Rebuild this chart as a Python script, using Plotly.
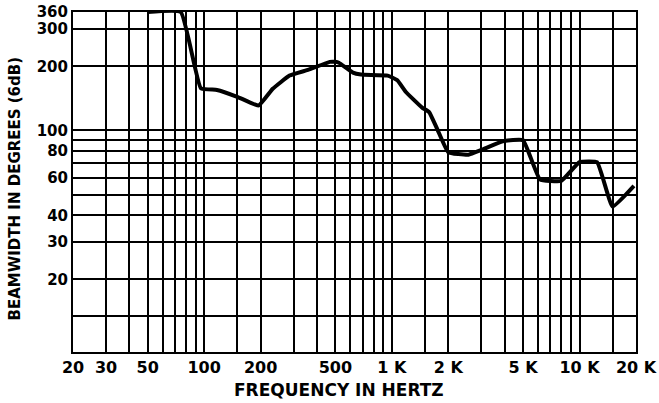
import plotly.graph_objects as go
import math

# Data
freq_hz = [50, 75, 96, 117, 150, 195, 232, 285, 360, 467, 500, 522, 620, 685, 950,
           1070, 1185, 1450, 1580, 1750, 2000, 2560, 3000, 3900, 5000, 6150, 8000,
           10000, 12400, 15000, 19500]
beamwidth_deg = [360, 360, 158, 155, 144, 131, 157, 181, 193, 210, 210, 208, 187, 183, 181,
                 172, 152, 128, 122, 101, 79, 77, 81, 89, 90, 59, 58,
                 71, 71, 44, 55]

x_grid = [20, 30, 40, 50, 60, 70, 80, 90, 100, 150, 200, 300, 400, 500, 600, 700, 800, 900,
          1000, 1500, 2000, 3000, 4000, 5000, 6000, 7000, 8000, 9000, 10000, 15000, 20000]
x_labels = {20: "20", 30: "30", 50: "50", 100: "100", 200: "200", 500: "500",
            1000: "1 K", 2000: "2 K", 5000: "5 K", 10000: "10 K", 20000: "20 K"}
y_grid = [13.5, 20, 30, 40, 50, 60, 70, 80, 90, 100, 200, 300, 360]
y_labels = {20: "20", 30: "30", 40: "40", 60: "60", 80: "80", 100: "100",
            200: "200", 300: "300", 360: "360"}

fig = go.Figure()
fig.add_trace(go.Scatter(x=freq_hz, y=beamwidth_deg, mode="lines",
                         line=dict(color="black", width=4, shape="spline", smoothing=0.35),
                         showlegend=False, hoverinfo="skip"))

fig.update_xaxes(type="log", range=[math.log10(20), math.log10(20000)],
                 tickvals=x_grid, ticktext=[x_labels.get(v, "") for v in x_grid],
                 showgrid=True, gridcolor="black", gridwidth=1.6,
                 showline=True, linecolor="black", linewidth=2, mirror=True,
                 ticks="", tickfont=dict(family="DejaVu Sans", size=16, color="black", weight="bold"),
                 zeroline=False, automargin=False)
fig.update_yaxes(type="log", range=[0.960, math.log10(360)],
                 tickvals=y_grid, ticktext=[y_labels.get(v, "") for v in y_grid],
                 showgrid=True, gridcolor="black", gridwidth=1.6,
                 showline=True, linecolor="black", linewidth=2, mirror=True,
                 ticks="", tickfont=dict(family="DejaVu Sans", size=15, color="black", weight="bold"),
                 zeroline=False, automargin=False)

fig.add_annotation(text="FREQUENCY IN HERTZ", xref="paper", yref="paper",
                   x=0.4725, y=-0.112, showarrow=False,
                   font=dict(family="DejaVu Sans", size=17, color="black", weight="bold"),
                   xanchor="center", yanchor="middle")
fig.add_annotation(text="BEAMWIDTH IN DEGREES (6dB)", xref="paper", yref="paper",
                   x=-0.103, y=0.481, showarrow=False,
                   font=dict(family="DejaVu Sans", size=15, color="black", weight="bold"),
                   textangle=-90, xanchor="center", yanchor="middle")

fig.update_layout(width=659, height=403, margin=dict(l=73, r=23, t=12, b=51, autoexpand=False),
                  paper_bgcolor="white", plot_bgcolor="white")

fig.write_html("out.html", config={"displayModeBar": False},
               post_script="document.body.style.margin='0';document.body.style.overflow='hidden';")
